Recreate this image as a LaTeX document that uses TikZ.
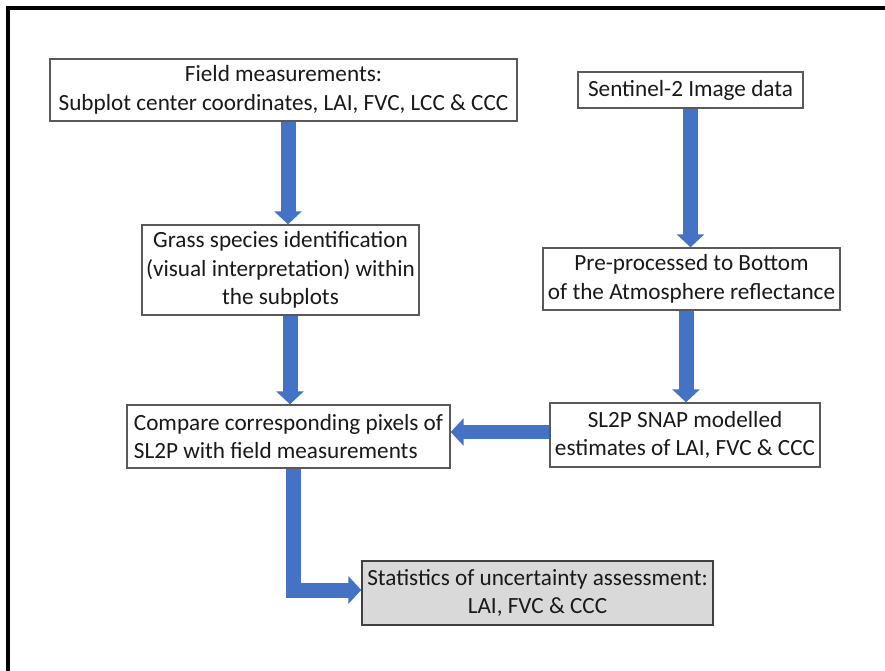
\documentclass[tikz,border=0pt]{standalone}
\usepackage{fontspec}
\setmainfont{Carlito}
\usetikzlibrary{arrows.meta}
\definecolor{flowblue}{RGB}{68,114,196}
\begin{document}
\begin{tikzpicture}[x=0.02cm, y=-0.02cm,
  box/.style={draw=black!65, line width=0.8pt, fill=white, align=center, inner sep=2pt,
    font=\fontsize{13.2}{16.4}\selectfont, text=black!90},
  flow/.style={draw=flowblue, line width=0.3cm, -{Triangle[width=0.54cm,length=0.26cm]}}]
\useasboundingbox (0,0) rectangle (885,671);
\draw[line width=1.8pt] (8,671)--(8,8)--(885,8);
\node[box, minimum width=9.34cm, minimum height=1.24cm] (field) at (283.5,90)
  {Field measurements:\\Subplot center coordinates, LAI, FVC, LCC \& CCC};
\node[box, minimum width=4.5cm, minimum height=0.72cm] (sentinel) at (690.5,90)
  {Sentinel-2 Image data};
\node[box, minimum width=5.54cm, minimum height=1.8cm] (grass) at (280.5,270)
  {Grass species identification\\(visual interpretation) within\\the subplots};
\node[box, minimum width=5.94cm, minimum height=1.24cm] (pre) at (691.5,279)
  {Pre-processed to Bottom\\of the Atmosphere reflectance};
\node[box, minimum width=5.4cm, minimum height=1.28cm] (snap) at (685,435)
  {SL2P SNAP modelled\\estimates of LAI, FVC \& CCC};
\node[box, align=left, minimum width=6.46cm, minimum height=1.26cm] (compare) at (288.5,436.5)
  {Compare corresponding pixels of\\SL2P with field measurements};
\node[box, draw=black!75, fill=black!15, minimum width=7.02cm, minimum height=1.28cm] (stats) at (537.5,593)
  {Statistics of uncertainty assessment:\\LAI, FVC \& CCC};
\draw[flow] ([xshift=0.09cm]field.south)--([xshift=0.09cm]field.south |- grass.north);
\draw[flow] ([xshift=0.19cm]grass.south)--([xshift=0.19cm]grass.south |- compare.north);
\draw[flow] (sentinel.south)--(sentinel.south |- pre.north);
\draw[flow] ([xshift=-0.11cm]pre.south)--([xshift=-0.11cm]pre.south |- snap.north);
\draw[flow] ([yshift=0.06cm]snap.west)--([yshift=0.06cm]snap.west -| compare.east);
\draw[flow] ([xshift=0.09cm]compare.south) |- ([yshift=0.06cm]stats.west);
\end{tikzpicture}
\end{document}
